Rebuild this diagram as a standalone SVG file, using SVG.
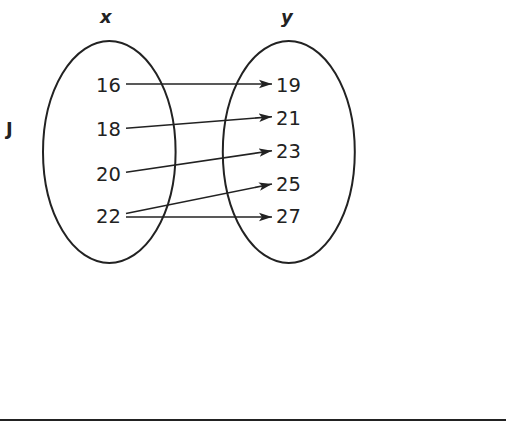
<svg xmlns="http://www.w3.org/2000/svg" width="516" height="432" viewBox="0 0 516 432">
<style>
.num{font-family:"DejaVu Sans","Verdana",sans-serif;font-size:19.5px;fill:#222}
.lbl{font-family:"DejaVu Sans","Verdana",sans-serif;font-size:18px;font-weight:bold;font-style:italic;fill:#222}
.set{fill:none;stroke:#222;stroke-width:2}
.arr{stroke:#222;stroke-width:1.6;fill:none;marker-end:url(#ah)}
</style>
<defs>
<marker id="ah" markerUnits="userSpaceOnUse" markerWidth="14" markerHeight="10" viewBox="0 0 14 10" refX="13" refY="5" orient="auto">
<path d="M0,0.8 L13,5 L0,9.2 L3,5 Z" fill="#222"/>
</marker>
</defs>
<rect width="516" height="432" fill="#fff"/>
<g id="setX">
<ellipse class="set" cx="109.3" cy="152" rx="66.3" ry="111"/>
<text class="lbl" x="100" y="23">x</text>
<text class="num" x="96" y="91.5">16</text>
<text class="num" x="96" y="136">18</text>
<text class="num" x="96" y="181">20</text>
<text class="num" x="96" y="223">22</text>
</g>
<g id="setY">
<ellipse class="set" cx="288.8" cy="152" rx="66" ry="111"/>
<text class="lbl" x="281" y="23">y</text>
<text class="num" x="276" y="91.5">19</text>
<text class="num" x="276" y="125">21</text>
<text class="num" x="276" y="158">23</text>
<text class="num" x="276" y="191">25</text>
<text class="num" x="276" y="223">27</text>
</g>
<g id="label">
<text x="6" y="135" style="font-family:'DejaVu Sans','Verdana',sans-serif;font-size:18px;font-weight:bold;fill:#222">J</text>
</g>
<g id="connectors">
<line class="arr" x1="126" y1="84" x2="272" y2="84"/>
<line class="arr" x1="126" y1="128.3" x2="272" y2="116.7"/>
<line class="arr" x1="126" y1="172.3" x2="272" y2="150.7"/>
<line class="arr" x1="126" y1="213.5" x2="272" y2="184"/>
<line class="arr" x1="126" y1="217" x2="272" y2="217"/>
</g>
<line x1="0" y1="420" x2="506" y2="420" stroke="#222" stroke-width="2"/>
</svg>
